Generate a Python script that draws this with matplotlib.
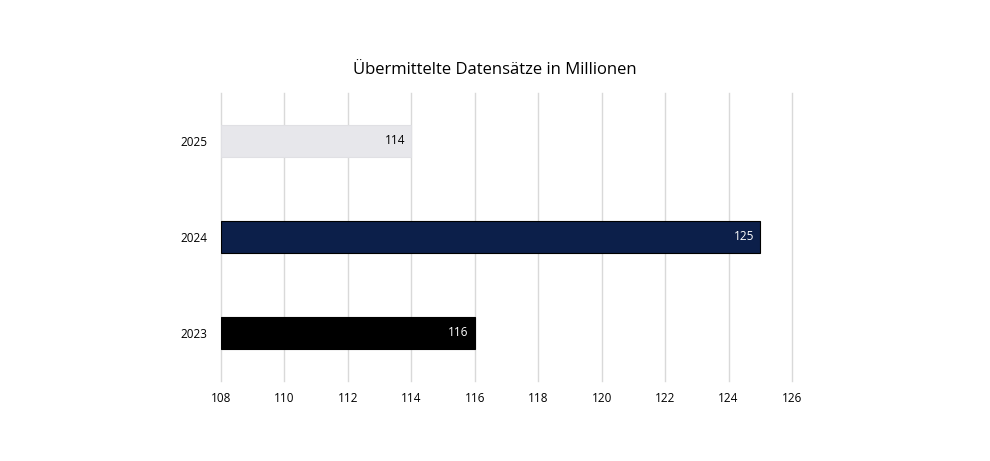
import matplotlib
matplotlib.use("Agg")
import matplotlib.pyplot as plt

years = ["2023", "2024", "2025"]
values = [116, 125, 114]
colors = ["#000000", "#0C1F4A", "#E7E7EB"]
label_colors = ["#FFFFFF", "#FFFFFF", "#000000"]
xticks = [108, 110, 112, 114, 116, 118, 120, 122, 124, 126]

plt.rcParams['font.family'] = ['Open Sans', 'DejaVu Sans']

fig = plt.figure(figsize=(9.9, 4.61), dpi=100)
ax = fig.add_axes([221/990, 80/461, (792-221)/990, 288/461])

base = xticks[0]
pos = list(range(len(years)))
ax.barh(pos, [v - base for v in values], left=base, height=0.34,
        color=colors, edgecolor=["#000000", "#000000", "#E0E0E4"], linewidth=0.8, zorder=3)
for p, v, lc in zip(pos, values, label_colors):
    ax.text(v - 0.2, p, str(v), ha="right", va="center", fontsize=8.5, color=lc, zorder=4)

ax.set_xlim(xticks[0], xticks[-1])
ax.set_ylim(-0.5, 2.5)
ax.set_xticks(xticks)
ax.set_xticklabels([str(t) for t in xticks], fontsize=8.5)
ax.set_yticks(pos)
ax.set_yticklabels(years, fontsize=8.5)
ax.tick_params(axis="both", length=0)
ax.tick_params(axis="x", pad=8)
ax.tick_params(axis="y", pad=10)
ax.grid(axis="x", color="#D9D9D9", linewidth=1, zorder=0)
for gl in ax.get_xgridlines():
    gl.set_clip_on(False)
for s in ax.spines.values():
    s.set_visible(False)

fig.text(495/990, 1 - 70/461, "Übermittelte Datensätze in Millionen", ha="center", va="center",
         fontsize=12, color="#000000")

fig.savefig("out.png", dpi=100, facecolor="white")
